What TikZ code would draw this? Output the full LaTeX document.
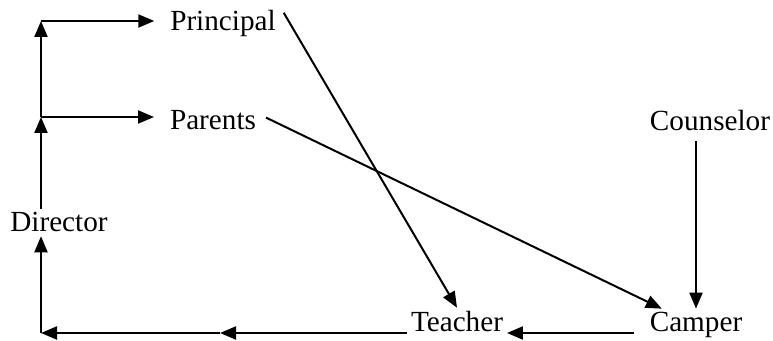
\documentclass[tikz,border=0pt]{standalone}
\usepackage{fontspec}
\setmainfont{Liberation Serif}
\usetikzlibrary{arrows.meta}
\tikzset{fl/.style={x=0.5pt,y=-0.5pt,line width=1pt,font=\fontsize{14.6}{17}\selectfont},
  lbl/.style={anchor=base,inner sep=1.5pt},
  arr/.style={-{Triangle[length=8pt,width=6.5pt]}}}

\begin{document}
\begin{tikzpicture}[fl]
  \useasboundingbox (0,0) rectangle (773,341);
  % labels
  \node[lbl] (principal) at (223,31){Principal};
  \node[lbl] (parents) at (213,130){Parents};
  \node[lbl] (counselor) at (710,131){Counselor};
  \node[lbl] (director) at (59,232){Director};
  \node[lbl] (teacher) at (457,332){Teacher};
  \node[lbl] (camper) at (696,332){Camper};
  \coordinate (lowleft) at (41,333);
  \coordinate (midleft) at (41,117);
  \coordinate (topleft) at (41,21);
  \coordinate (midbot) at (220,333);
  % left loop
  \draw[arr] (lowleft)--(lowleft |- director.south);
  \draw[arr] (lowleft |- director.north)--(midleft);
  \draw[arr] (midleft)--(topleft);
  \draw[arr,shorten >=6pt] (midleft)--(midleft -| parents.west);
  \draw[arr,shorten >=6pt] (topleft)--(topleft -| principal.west);
  % bottom row
  \draw[arr] (teacher.west |- lowleft)--(midbot);
  \draw[arr] (midbot)--(lowleft);
  \draw[arr,shorten <=6pt] (camper.west |- lowleft)--(teacher.east |- lowleft);
  % diagonals and counselor
  \draw[arr,shorten <=3pt] (counselor.south -| camper.north)--(camper.north);
  \draw[arr] ([shift={(4,6)}]principal.north east)--(teacher.north);
  \draw[arr] ([shift={(6,-3)}]parents.east)--([shift={(16,0)}]camper.north west);
\end{tikzpicture}
\end{document}
